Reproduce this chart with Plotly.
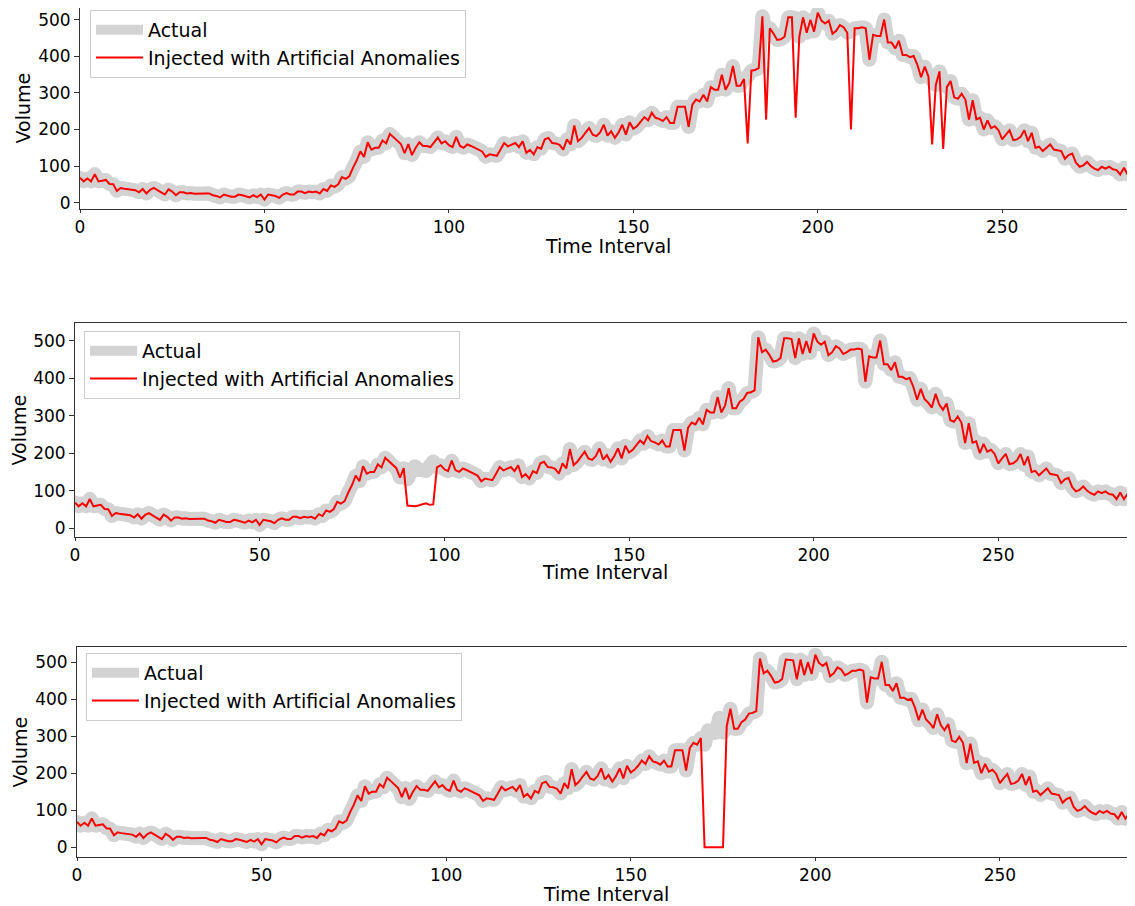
import numpy as np
import plotly.graph_objects as go
from plotly.subplots import make_subplots

# time index (5 minute intervals)
time_interval = list(range(288))

# actual traffic volume
actual = [
    68, 58, 66, 58, 78, 58, 60, 62, 51, 50,
    32, 40, 38, 37, 35, 34, 28, 37, 25, 35,
    40, 35, 28, 22, 36, 30, 20, 28, 28, 25,
    26, 24, 25, 24, 25, 25, 20, 18, 14, 22,
    18, 16, 16, 22, 20, 17, 14, 20, 15, 22,
    8, 22, 20, 18, 13, 22, 26, 22, 22, 30,
    30, 26, 30, 28, 30, 25, 37, 32, 47, 43,
    50, 70, 65, 72, 95, 115, 140, 125, 165, 145,
    150, 150, 170, 162, 188, 178, 168, 160, 135, 160,
    130, 150, 165, 155, 155, 152, 165, 178, 162, 168,
    157, 152, 180, 155, 150, 159, 155, 150, 146, 140,
    125, 132, 130, 128, 145, 163, 154, 158, 163, 152,
    168, 136, 144, 132, 152, 147, 173, 177, 163, 162,
    158, 145, 173, 159, 211, 168, 177, 191, 204, 186,
    182, 192, 213, 183, 195, 177, 192, 213, 186, 220,
    202, 209, 220, 234, 225, 246, 232, 229, 223, 234,
    218, 218, 262, 262, 262, 207, 268, 282, 277, 295,
    277, 316, 309, 309, 350, 309, 327, 374, 320, 320,
    338, 345, 361, 363, 368, 510, 470, 477, 463, 445,
    447, 454, 507, 507, 505, 454, 507, 465, 500, 468,
    520, 498, 490, 498, 462, 470, 486, 480, 465, 470,
    477, 477, 480, 477, 391, 459, 456, 456, 501, 438,
    438, 422, 443, 404, 404, 398, 401, 377, 343, 372,
    345, 335, 322, 359, 330, 316, 333, 288, 284, 298,
    282, 227, 280, 228, 232, 200, 225, 204, 209, 198,
    173, 186, 198, 171, 173, 180, 198, 168, 191, 150,
    153, 141, 150, 159, 145, 143, 141, 120, 130, 134,
    109, 98, 102, 111, 100, 93, 89, 98, 93, 98,
    91, 89, 77, 95, 77, 91, 73, 85,
]

# injected anomalies: point spikes
spike_idx = [181, 186, 194, 209, 231, 234]
spike_vals = [162, 227, 232, 200, 159, 147]

# injected anomalies: level shift
shift_idx = [90, 91, 92, 93, 94, 95, 96, 97]
shift_vals = [60, 58, 58, 60, 62, 66, 62, 63]

# injected anomalies: outage
outage_idx = [170, 171, 172, 173, 174, 175]
outage_vals = [0, 0, 0, 0, 0, 0]


def inject(idx, vals):
    s = list(actual)
    for i, v in zip(idx, vals):
        s[i] = v
    return s


injected = [inject(spike_idx, spike_vals),
            inject(shift_idx, shift_vals),
            inject(outage_idx, outage_vals)]

# thick band drawn as separate segments + round dots (gives round joins)
seg_x, seg_y = [], []
for i in range(len(actual) - 1):
    seg_x += [time_interval[i], time_interval[i + 1], None]
    seg_y += [actual[i], actual[i + 1], None]

# page has an 8px body margin, so work in page pixels and subtract it
OFF = 8
W, H = 1135 - OFF, 906 - OFF
FONT = "DejaVu Sans"
BAND = 14
GRAY = "#d3d3d3"

fig = make_subplots(rows=3, cols=1)

# page pixel boxes of each panel: left, top, bottom, x max, y range
panels = [
    (80, 8, 209, 286.0, [-17.6, 532.6]),
    (75, 323, 537, 287.0, [-24, 548]),
    (77, 647, 857, 286.6, [-26.5, 541]),
]
legend_pos = [(90, 10), (84, 331), (86, 653)]
xtitle_y = [246, 572, 894]
ytitle_x = [22, 18.5, 19.5]

annotations = []
for r in range(3):
    lg = "legend" if r == 0 else f"legend{r + 1}"
    fig.add_trace(go.Scatter(x=seg_x, y=seg_y, mode="lines", showlegend=False,
                             hoverinfo="skip", connectgaps=False,
                             line=dict(color=GRAY, width=BAND)),
                  row=r + 1, col=1)
    fig.add_trace(go.Scatter(x=time_interval, y=actual, mode="markers",
                             showlegend=False, hoverinfo="skip",
                             marker=dict(color=GRAY, size=BAND, line_width=0)),
                  row=r + 1, col=1)
    fig.add_trace(go.Scatter(x=[None], y=[None], mode="lines",
                             name="Actual", legend=lg,
                             line=dict(color=GRAY, width=BAND)),
                  row=r + 1, col=1)
    fig.add_trace(go.Scatter(x=time_interval, y=injected[r], mode="lines",
                             name="Injected with Artificial Anomalies", legend=lg,
                             line=dict(color="red", width=2)),
                  row=r + 1, col=1)

    left, top, bottom, xmax, yr = panels[r]
    sfx = "" if r == 0 else str(r + 1)
    fig.layout["xaxis" + sfx].update(
        domain=[(left - OFF) / W, 1], range=[0, xmax],
        tickvals=[0, 50, 100, 150, 200, 250],
    )
    fig.layout["yaxis" + sfx].update(
        domain=[1 - (bottom - OFF) / H, min(1, 1 - (top - OFF) / H)], range=yr,
        tickvals=[0, 100, 200, 300, 400, 500],
    )
    lx, ly = legend_pos[r]
    fig.layout[lg] = dict(
        x=(lx - OFF) / W, y=1 - (ly - OFF) / H, xanchor="left", yanchor="top",
        bgcolor="white", bordercolor="#cccccc", borderwidth=1,
        font=dict(family=FONT, size=19, color="black"),
        tracegroupgap=0, itemwidth=47,
    )
    # axis titles
    annotations.append(dict(
        text="Time Interval", xref="paper", yref="paper",
        x=((left + 1135) / 2 - OFF) / W, y=1 - (xtitle_y[r] - OFF) / H,
        xanchor="center", yanchor="middle", showarrow=False,
        font=dict(family=FONT, size=19, color="black")))
    annotations.append(dict(
        text="Volume", xref="paper", yref="paper", textangle=-90,
        x=(ytitle_x[r] - OFF) / W, y=1 - ((top + bottom) / 2 - OFF) / H,
        xanchor="center", yanchor="middle", showarrow=False,
        font=dict(family=FONT, size=19, color="black")))

fig.update_xaxes(showgrid=False, zeroline=False, showline=True, mirror=True,
                 linecolor="#333", linewidth=1, ticks="outside", ticklen=3,
                 tickcolor="#333", tickfont=dict(size=17, color="black"),
                 automargin=False)
fig.update_yaxes(showgrid=False, zeroline=False, showline=True, mirror=True,
                 linecolor="#333", linewidth=1, ticks="outside", ticklen=5,
                 tickcolor="#333", tickfont=dict(size=17, color="black"),
                 automargin=False)

fig.update_layout(
    width=W, height=H,
    margin=dict(l=0, r=0, t=0, b=0),
    plot_bgcolor="white", paper_bgcolor="white",
    font=dict(family=FONT, size=17, color="black"),
    annotations=annotations,
)

fig.write_html("out.html")
